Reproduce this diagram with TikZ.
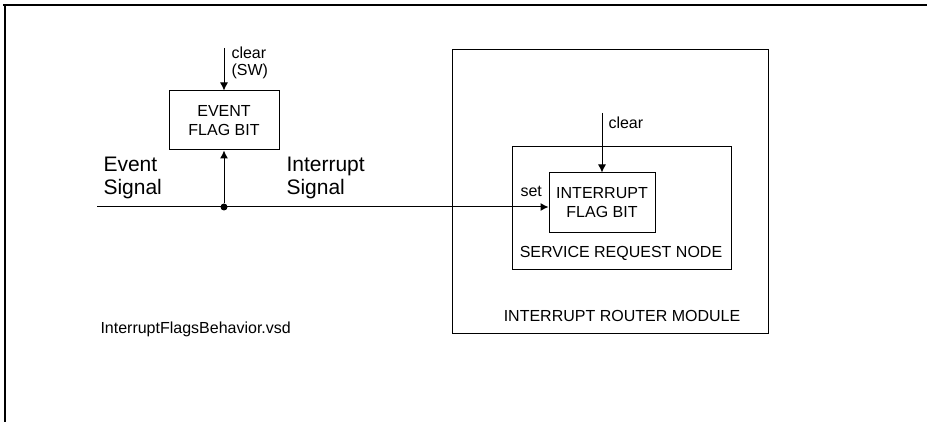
\documentclass[tikz,border=0pt]{standalone}
\usepackage{fontspec}
\setmainfont{Liberation Sans}
\usetikzlibrary{arrows.meta,positioning}

\tikzstyle{flagbox} = [draw, rectangle, align=center, inner sep=0pt, font=\fontsize{8}{9.5}\selectfont]
\tikzstyle{lbl} = [inner sep=0pt, align=left, font=\fontsize{8}{8.5}\selectfont]
\tikzstyle{siglbl} = [inner sep=0pt, align=left, font=\fontsize{10.5}{11.5}\selectfont]
\tikzstyle{dot} = [circle, fill, minimum width=3.5pt, inner sep=0pt]
\tikzstyle{arr} = [-{Latex[length=4pt,width=4pt]}]

\begin{document}
\begin{tikzpicture}[x=0.5pt, y=-0.5pt, line width=0.5pt]
\useasboundingbox (0,0) rectangle (927,422);
% frame
\draw[line width=1pt] (3,5) -- (927,5);
\draw[line width=1pt] (5,5) -- (5,422);

% event flag
\node[flagbox, minimum width=55pt, minimum height=29.5pt] (eventbit) at (224,120.5) {EVENT\\FLAG BIT};
\coordinate (swclear) at (224,48);
\node[lbl, anchor=west] (swclearlbl) at (231,63) {clear\\(SW)};
\draw[arr] (swclear) -- (eventbit.north);

% signal line
\coordinate (sigin) at (97,207);
\node[dot] (sigdot) at (224,207) {};
\node[siglbl, anchor=west] (eventsig) at (103,178) {Event\\Signal};
\node[siglbl, anchor=west] (intsig) at (286,178) {Interrupt\\Signal};
\draw[arr] (sigdot) -- (eventbit.south);

% interrupt router
\draw (452,50) rectangle (768,334);
\node[lbl] (irlbl) at (622,316) {INTERRUPT ROUTER MODULE};
\draw (512,147) rectangle (731,270);
\node[lbl] (srnlbl) at (621,253) {SERVICE REQUEST NODE};
\node[flagbox, minimum width=53pt, minimum height=30pt] (intbit) at (602,203) {INTERRUPT\\FLAG BIT};
\coordinate (hwclear) at (602,113);
\node[lbl, anchor=west] (hwclearlbl) at (608,123) {clear};
\draw[arr] (hwclear) -- (intbit.north);
\node[lbl, anchor=west] (setlbl) at (520,191) {set};
\draw[arr] (sigin) -- (sigin -| intbit.west);

\node[lbl, anchor=west] (filelbl) at (100,329) {InterruptFlagsBehavior.vsd};
\end{tikzpicture}
\end{document}
